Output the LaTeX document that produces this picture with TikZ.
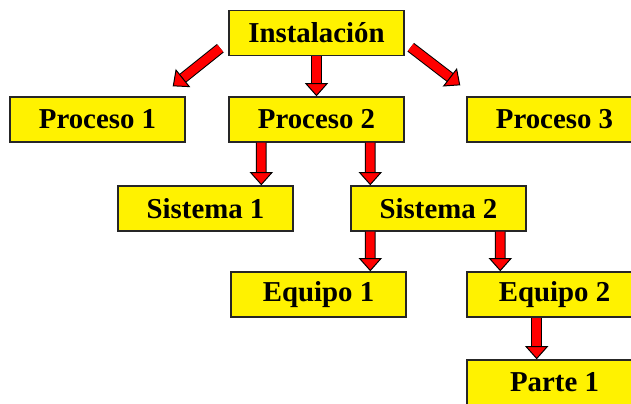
\documentclass[tikz,border=0pt]{standalone}
\usepackage{fontspec}
\setmainfont{Liberation Serif}
\usetikzlibrary{arrows.meta}

\tikzset{
  caja/.style={draw=black!85, line width=1pt, fill=yellow, minimum width=4.375cm, minimum height=1.125cm, inner sep=0pt, font=\fontsize{20.5}{24}\selectfont\bfseries},
  flecha/.style={red, line width=0.22cm, -{Triangle[length=0.33cm,width=0.58cm,line width=0.7pt,fill=red,color=black]}, preaction={draw=black, line width=0.27cm, -, shorten >=0.3cm}}
}

\begin{document}
\begin{tikzpicture}[x=0.025cm, y=-0.025cm]
\path[use as bounding box, clip] (0,0) rectangle (631,403);
% cajas
\node[caja] (inst) at (316.5,33) {Instalación};
\node[caja] (p1) at (97.5,119.5) {Proceso 1};
\node[caja] (p2) at (316.5,119.5) {Proceso 2};
\node[caja] (p3) at (554.5,119.5) {Proceso 3};
\node[caja] (s1) at (205.5,208.5) {Sistema 1};
\node[caja] (s2) at (438.5,208.5) {Sistema 2};
\node[caja] (e1) at (318.5,294.5) {Equipo 1};
\node[caja] (e2) at (554.5,294.5) {Equipo 2};
\node[caja] (pa1) at (554.5,382.5) {Parte 1};
% flechas
\draw[flecha] (inst.south) -- (p2.north);
\draw[flecha] ([shift={(-8,-8)}]inst.south west) -- ([shift={(-13,-10)}]p1.north east);
\draw[flecha] ([shift={(6,-9)}]inst.south east) -- ([shift={(-6,-11)}]p3.north west);
\draw[flecha] ([xshift=0.825cm]p2.south west) -- ([xshift=3.6cm]s1.north west);
\draw[flecha] ([xshift=3.55cm]p2.south west) -- ([xshift=0.5cm]s2.north west);
\draw[flecha] ([xshift=0.5cm]s2.south west) -- ([xshift=3.5cm]e1.north west);
\draw[flecha] ([xshift=3.75cm]s2.south west) -- ([xshift=0.85cm]e2.north west);
\draw[flecha] ([xshift=1.76cm]e2.south west) -- ([xshift=1.76cm]pa1.north west);
\end{tikzpicture}
\end{document}
